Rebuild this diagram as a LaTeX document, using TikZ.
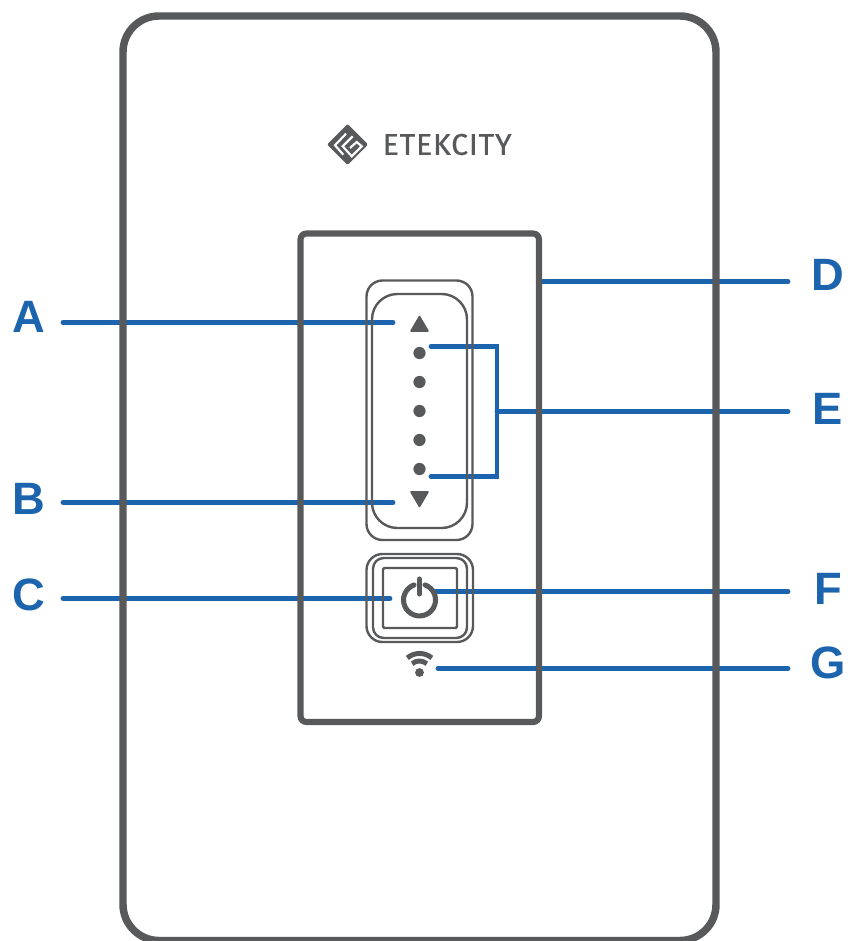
\documentclass[tikz,border=0pt]{standalone}
\usepackage{fontspec}
\setmainfont{Liberation Sans}
\newfontfamily\brandfont[LetterSpace=3,FakeBold=0.8]{Fira Sans}
\usepackage{tikz}
\usetikzlibrary{positioning, calc}
\definecolor{plategray}{HTML}{58595B}
\definecolor{leadblue}{HTML}{1C64AE}

\begin{document}
\begin{tikzpicture}[
    x=0.75pt, y=-0.75pt,
    lead/.style={draw=leadblue, line width=3.7pt, line cap=round, line join=miter},
    letter/.style={font=\fontsize{34}{34}\selectfont\bfseries, text=leadblue, inner sep=0pt},
    outline/.style={draw=plategray, line width=1.8pt},
    frame/.style={draw=plategray, line width=4.6pt},
    dot/.style={circle, fill=plategray, minimum size=9.2pt, inner sep=0pt},
    arrowtri/.style={fill=plategray, draw=plategray, line width=1.2pt, line join=round},
    icon/.style={draw=plategray, line width=3.8pt, line cap=round},
    wave/.style={draw=plategray, line width=3.7pt},
    logoline/.style={draw=white, line width=1.6pt},
]
\clip (0,0) rectangle (849,941);

% Letters
\node[letter] (lblA) at (29,316.5) {A};
\node[letter] (lblB) at (29,498.5) {B};
\node[letter] (lblC) at (29,595) {C};
\node[letter] (lblD) at (828,275) {D};
\node[letter] (lblE) at (828,408.5) {E};
\node[letter] (lblF) at (828,589) {F};
\node[letter] (lblG) at (828,662.5) {G};

% Free ends of the leads
\coordinate (endA) at (393,322.5);
\coordinate (endB) at (393,502.5);
\coordinate (endC) at (390,598.5);
\coordinate (endD) at (543,281.5);
\coordinate (endE) at (497,411.5);
\coordinate (endF) at (436,591.5);
\coordinate (endG) at (438,668.5);
\coordinate (topE) at (431,346.5);
\coordinate (botE) at (431,476.5);

% Leads
\draw[lead] (63,322.5) coordinate (startA) -- (endA);
\draw[lead] (63,502.5) coordinate (startB) -- (endB);
\draw[lead] (63,598.5) coordinate (startC) -- (endC);
\draw[lead] (endD) -- (788,281.5) coordinate (startD);
\draw[lead] (endE) -- (788,411.5) coordinate (startE);
\draw[lead] (endF) -- (788,591.5) coordinate (startF);
\draw[lead] (endG) -- (788,668.5) coordinate (startG);
\draw[lead] (topE) -- (endE |- topE) -- (endE |- botE) -- (botE);

% Wall plate and switch frame
\draw[plategray, line width=5.6pt, rounded corners=27pt] (123,16) rectangle (716,940.5);
\draw[frame, rounded corners=4.5pt] (300.5,233.5) rectangle (539,722);

% Slider
\draw[outline, rounded corners=12pt] (366.5,280.5) rectangle (472.5,540);
\draw[outline, rounded corners=19pt] (372,294) rectangle (467,528);
\draw[arrowtri] (419.5,316.5) -- (411,331) -- (428,331) -- cycle;
\draw[arrowtri] (419.5,506.5) -- (411,492) -- (428,492) -- cycle;
\foreach \yy/\nm in {353/a, 382/b, 411/c, 440/d, 469/e}
    \node[dot] (dot\nm) at (419.5,\yy) {};

% Power button
\draw[outline, rounded corners=12pt] (366.5,554) rectangle (473,642);
\draw[outline, rounded corners=8pt] (373,558) rectangle (467,638);
\draw[outline, rounded corners=1pt] (383,568) rectangle (457,628);
\coordinate (pwr) at (419.5,600);
\draw[icon] (pwr) ++(5.5,-15.1) arc[start angle=70, end angle=-250, radius=12pt];
\draw[icon] (419.5,579) -- (419.5,594);

% Wifi mark
\coordinate (wifi) at (419.5,672.5);
\node[circle, fill=plategray, minimum size=6.6pt, inner sep=0pt] (wifidot) at (wifi) {};
\draw[wave] (wifi) ++(-12.2,-14.6) arc[start angle=130, end angle=50, radius=14.3pt];
\draw[wave] (wifi) ++(-7.4,-8.8) arc[start angle=130, end angle=50, radius=8.6pt];

% Logo
\fill[plategray, rounded corners=1.5pt] (347.5,124) -- (368,144.5) -- (347.5,165) -- (327,144.5) -- cycle;
\draw[logoline] (346,133.7) -- (335,145.3) -- (343.3,154.7);
\draw[logoline] (352.7,136.3) -- (342.7,146.3) -- (351.7,156.3) -- (361.7,146.3) -- (356.7,142) -- (350,148);
\node[font=\fontsize{22.5}{22.5}\selectfont\brandfont, text=plategray, anchor=west, inner sep=0pt] (brand) at (382.5,144.5) {ETEKCITY};
\end{tikzpicture}
\end{document}
